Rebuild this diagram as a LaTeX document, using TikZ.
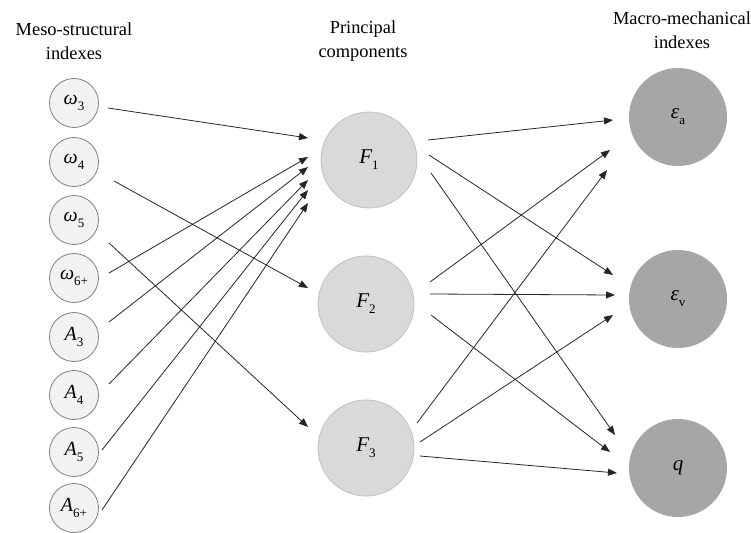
\documentclass[tikz,border=0pt]{standalone}
\usepackage{fontspec}
\setmainfont{Liberation Serif}
\usetikzlibrary{arrows.meta,calc}
\definecolor{lfill}{HTML}{F2F2F2}
\definecolor{ldraw}{HTML}{7F7F7F}
\definecolor{ffill}{HTML}{D9D9D9}
\definecolor{fdraw}{HTML}{BFBFBF}
\definecolor{rfill}{HTML}{A6A6A6}
\definecolor{lcol}{HTML}{262626}
\newcommand\lowidx[1]{\raisebox{-0.28em}{\fontsize{13}{14}\selectfont\upshape #1}}
\begin{document}
\begin{tikzpicture}[x=1pt,y=-1pt,
  title/.style={align=center,font=\fontsize{18.4}{24}\selectfont},
  meso/.style={circle,draw=ldraw,fill=lfill,line width=0.8pt,minimum size=49pt,inner sep=0pt,font=\fontsize{20}{22}\selectfont\itshape},
  comp/.style={circle,draw=fdraw,fill=ffill,line width=0.8pt,minimum size=96pt,inner sep=0pt,font=\fontsize{21}{22}\selectfont\itshape},
  macro/.style={circle,fill=rfill,minimum size=98pt,inner sep=0pt,font=\fontsize{21}{22}\selectfont\itshape},
  arr/.style={draw=lcol,line width=0.8pt,-{Triangle[length=9pt,width=7pt]}}]
\useasboundingbox (0,0) rectangle (751,532);
% titles
\node[title] (t1) at (74,41) {Meso-structural\\indexes};
\node[title] (t2) at (363,41) {Principal\\components};
\node[title] (t3) at (682,30) {Macro-mechanical\\indexes};
% left nodes
\node[meso] (w3) at (74,103) {ω\lowidx{3}};
\node[meso] (w4) at (74,162) {ω\lowidx{4}};
\node[meso] (w5) at (74,220) {ω\lowidx{5}};
\node[meso] (w6) at (74,278) {ω\lowidx{6+}};
\node[meso] (a3) at (74,337) {A\lowidx{3}};
\node[meso] (a4) at (74,395) {A\lowidx{4}};
\node[meso] (a5) at (74,452) {A\lowidx{5}};
\node[meso] (a6) at (74,508) {A\lowidx{6+}};
% components
\node[comp] (F1) at (369,160) {F\lowidx{1}};
\node[comp] (F2) at (366,304) {F\lowidx{2}};
\node[comp] (F3) at (366,448) {F\lowidx{3}};
% macro
\node[macro] (ea) at (678,117) {ε\lowidx{a}};
\node[macro] (ev) at (678,299) {ε\lowidx{v}};
\node[macro] (q) at (678,468) {q};
% left -> components
\draw[arr] ($(w3)+(34,5)$) -- ($(F1)+(-61,-22)$);
\draw[arr] ($(w4)+(40,19)$) -- ($(F2)+(-58,-16)$);
\draw[arr] ($(w5)+(35,23)$) -- ($(F3)+(-58,-21)$);
\draw[arr] ($(w6)+(35,-5)$) -- ($(F1)+(-61,-3)$);
\draw[arr] ($(a3)+(35,-15)$) -- ($(F1)+(-61,7)$);
\draw[arr] ($(a4)+(35,-11)$) -- ($(F1)+(-61,20)$);
\draw[arr] ($(a5)+(28,-2)$) -- ($(F1)+(-61,30)$);
\draw[arr] ($(a6)+(28,2)$) -- ($(F1)+(-61,43)$);
% components -> macro
\draw[arr] ($(F1)+(59,-20)$) -- ($(ea)+(-65,3)$);
\draw[arr] ($(F1)+(60,-5)$) -- ($(ev)+(-65,-24)$);
\draw[arr] ($(F1)+(62,13)$) -- ($(q)+(-63,-33)$);
\draw[arr] ($(F2)+(64,-22)$) -- ($(ea)+(-68,33)$);
\draw[arr] ($(F2)+(64,-10)$) -- ($(ev)+(-63,-4)$);
\draw[arr] ($(F2)+(65,11)$) -- ($(q)+(-68,-16)$);
\draw[arr] ($(F3)+(51,-25)$) -- ($(ea)+(-71,53)$);
\draw[arr] ($(F3)+(54,-6)$) -- ($(ev)+(-65,16)$);
\draw[arr] ($(F3)+(54,8)$) -- ($(q)+(-61,5)$);
\end{tikzpicture}
\end{document}
